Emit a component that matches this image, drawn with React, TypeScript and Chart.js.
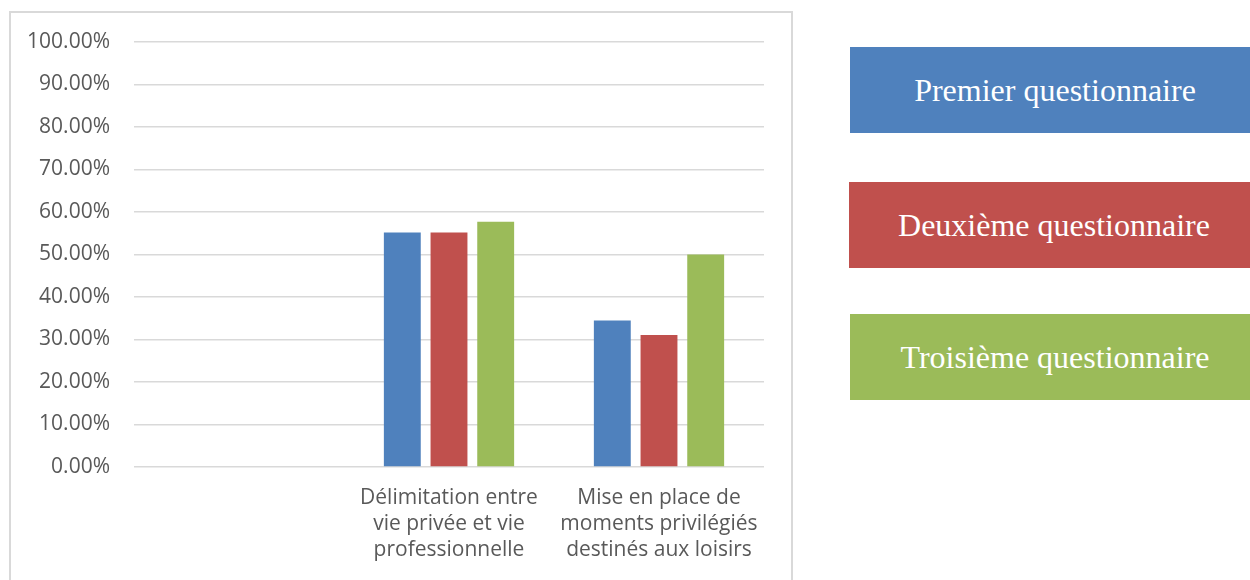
import React, { useEffect, useRef } from "react";
import { Chart, registerables } from "chart.js";

Chart.register(...registerables);

const categories: string[][] = [
  [""],
  ["Délimitation entre", "vie privée et vie", "professionnelle"],
  ["Mise en place de", "moments privilégiés", "destinés aux loisirs"],
];
const seriesNames = ["Premier questionnaire", "Deuxième questionnaire", "Troisième questionnaire"];
const premier = [null, 55.17, 34.48];
const deuxieme = [null, 55.17, 31.03];
const troisieme = [null, 57.69, 50.0];
const yTicks = [0, 10, 20, 30, 40, 50, 60, 70, 80, 90, 100];
const colors = ["#4f81bd", "#c0504d", "#9bbb59"];

const legendBoxes = [
  { left: 850, top: 47 },
  { left: 849, top: 182 },
  { left: 850, top: 314 },
];

export default function App() {
  const ref = useRef<HTMLCanvasElement | null>(null);
  useEffect(() => {
    if (!ref.current) return;
    const chart = new Chart(ref.current, {
      type: "bar",
      data: {
        labels: categories,
        datasets: [premier, deuxieme, troisieme].map((d, i) => ({
          label: seriesNames[i],
          data: d,
          backgroundColor: colors[i],
          categoryPercentage: 0.667,
          barPercentage: 0.79,
        })),
      },
      options: {
        responsive: false,
        animation: false,
        layout: { padding: { left: 0, right: 486, top: 42, bottom: 0 } },
        plugins: { legend: { display: false }, tooltip: { enabled: false } },
        scales: {
          x: {
            grid: { display: false, drawTicks: false },
            border: { display: false },
            ticks: {
              padding: 18,
              color: "#595959",
              font: { family: "Open Sans", size: 21, lineHeight: 26 / 21 },
              maxRotation: 0,
              autoSkip: false,
            },
            afterFit: (s: any) => {
              s.height = 113;
            },
          },
          y: {
            min: 0,
            max: 100,
            afterBuildTicks: (s: any) => {
              s.ticks = yTicks.map((v) => ({ value: v }));
            },
            grid: { color: "#d9d9d9", lineWidth: 1.5, drawTicks: false },
            border: { display: false },
            ticks: {
              padding: 24,
              color: "#595959",
              font: { family: "Open Sans", size: 21 },
              callback: (v: any) => Number(v).toFixed(2) + "%",
            },
            afterFit: (s: any) => {
              s.width = 134;
            },
          },
        },
      },
    });
    return () => chart.destroy();
  }, []);

  return (
    <div
      style={{
        position: "fixed",
        left: 0,
        top: 0,
        width: 1250,
        height: 580,
        overflow: "hidden",
        background: "#fff",
      }}
    >
      <canvas ref={ref} width={1250} height={580} style={{ position: "absolute", left: 0, top: 0 }} />
      <div
        style={{
          position: "absolute",
          left: 9,
          top: 11,
          width: 780,
          height: 620,
          border: "2px solid #d9d9d9",
          pointerEvents: "none",
        }}
      />
      {legendBoxes.map((b, i) => (
        <div
          key={i}
          style={{
            position: "absolute",
            left: b.left,
            top: b.top,
            width: 410,
            height: 86,
            background: colors[i],
            color: "#fff",
            display: "flex",
            alignItems: "center",
            justifyContent: "center",
            fontFamily: "'Liberation Serif', serif",
            fontSize: 32,
          }}
        >
          {seriesNames[i]}
        </div>
      ))}
    </div>
  );
}
